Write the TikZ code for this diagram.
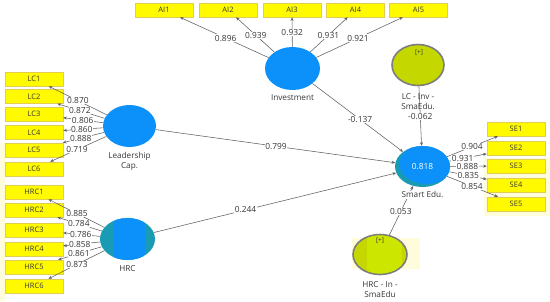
\documentclass[tikz,border=0pt]{standalone}
\usepackage{fontspec}
\setmainfont{Open Sans}
\usetikzlibrary{arrows.meta,calc,shapes.geometric}
\definecolor{lvblue}{RGB}{12,145,250}
\definecolor{lvteal}{RGB}{25,155,180}
\definecolor{mgreen}{RGB}{196,216,0}
\definecolor{mgreenb}{RGB}{205,230,0}
\definecolor{mborder}{RGB}{125,125,125}
\definecolor{indfill}{RGB}{255,250,0}
\definecolor{indborder}{RGB}{225,205,80}
\definecolor{pale}{RGB}{255,252,220}
\definecolor{lnc}{RGB}{95,95,95}
\definecolor{txt}{RGB}{55,55,55}
\begin{document}
\begin{tikzpicture}[x=1pt,y=-1pt,
  indbox/.style={draw=indborder, line width=0.5pt, fill=indfill, minimum width=58pt, minimum height=14pt, inner sep=0pt, font=\fontsize{7.5}{8}\selectfont, text=txt},
  lvnode/.style={ellipse, inner sep=0pt, minimum width=55pt, minimum height=42pt},
  mvnode/.style={ellipse, inner sep=0pt, draw=mborder, line width=1.6pt, fill=mgreen, minimum width=52pt, minimum height=41pt},
  ld/.style={draw=lnc, line width=0.55pt, -{Stealth[length=3.6pt,width=3pt]}},
  lbl/.style={fill=white, inner sep=0.5pt, font=\fontsize{8.4}{9}\selectfont, text=txt},
  nm/.style={font=\fontsize{8.2}{10}\selectfont, text=txt, align=center, inner sep=1pt},
  plus/.style={font=\fontsize{6.5}{7}\selectfont, text=txt, inner sep=0pt}]
\useasboundingbox (0,0) rectangle (550,301);
% pale backgrounds
\fill[pale] (0,143) rectangle (5,301);
\fill[pale] (484,158) rectangle (550,216);
\fill[pale] (352,238) rectangle (420,269);
% indicators
\node[indbox] (AI1) at (164,10) {AI1};
\node[indbox] (AI2) at (228,10) {AI2};
\node[indbox] (AI3) at (292,10) {AI3};
\node[indbox] (AI4) at (355.5,10) {AI4};
\node[indbox] (AI5) at (418.5,10) {AI5};
\node[indbox] (LC1) at (34,79) {LC1};
\node[indbox] (LC2) at (34,96.5) {LC2};
\node[indbox] (LC3) at (34,114) {LC3};
\node[indbox] (LC4) at (34,132.5) {LC4};
\node[indbox] (LC5) at (34,150) {LC5};
\node[indbox] (LC6) at (34,169) {LC6};
\node[indbox] (HRC1) at (34,192) {HRC1};
\node[indbox] (HRC2) at (34,210) {HRC2};
\node[indbox] (HRC3) at (34,230) {HRC3};
\node[indbox] (HRC4) at (34,249) {HRC4};
\node[indbox] (HRC5) at (34,267) {HRC5};
\node[indbox] (HRC6) at (34,286) {HRC6};
\node[indbox] (SE1) at (516,129) {SE1};
\node[indbox] (SE2) at (516,148) {SE2};
\node[indbox] (SE3) at (516,166) {SE3};
\node[indbox] (SE4) at (516,185) {SE4};
\node[indbox] (SE5) at (516,204) {SE5};
% latent variables
\node[lvnode, fill=lvblue, minimum width=55pt, minimum height=43pt] (INV) at (292.5,68.5) {};
\node[lvnode, fill=lvblue, minimum width=53pt, minimum height=42pt] (LC) at (129.5,126) {};
\node[lvnode, fill=lvteal] (HRC) at (127.5,239) {};
\begin{scope}
  \clip (127.5,239) ellipse (27.5pt and 21pt);
  \fill[lvblue] (113,215) rectangle (145,263);
\end{scope}
\node[lvnode, fill=lvteal, minimum height=41pt] (SE) at (422.5,166.5) {};
\begin{scope}
  \clip (422.5,166.5) ellipse (27.5pt and 20.5pt);
  \fill[lvblue] (426.5,164) ellipse (27pt and 20pt);
\end{scope}
\node[font=\fontsize{8.4}{9}\selectfont, text=white] at (SE) {0.818};
\node[mvnode] (LCI) at (418,65) {};
\node[mvnode, minimum width=54pt, minimum height=40pt] (HRCI) at (380,254.5) {};
\begin{scope}
  \clip (380,254.5) ellipse (26pt and 19pt);
  \fill[mgreenb] (367,230) rectangle (402,280);
\end{scope}
\node[plus] (p1) at (419,53) {[+]};
\node[plus] (p2) at (380,241) {[+]};
% names
\node[nm, anchor=north] (nINV) at (292.5,93) {Investment};
\node[nm, anchor=north] (nLC) at (129.5,151) {Leadership\\Cap.};
\node[nm, anchor=north] (nHRC) at (127.5,264) {HRC};
\node[nm, anchor=north] (nHRCI) at (380,280) {HRC - In -\\SmaEdu};
% outer loadings
\foreach \b in {LC1,LC2,LC3,LC4,LC5,LC6}{\draw[ld] (LC) -- (\b);}
\foreach \b in {HRC1,HRC2,HRC3,HRC4,HRC5,HRC6}{\draw[ld] (HRC) -- (\b);}
\foreach \b in {AI1,AI2,AI3,AI4,AI5}{\draw[ld] (INV) -- (\b);}
\foreach \b in {SE1,SE2,SE3,SE4,SE5}{\draw[ld] (SE) -- (\b);}
% structural paths
\draw[ld] (LC) -- (SE);
\draw[ld] (HRC) -- (SE);
\draw[ld] (INV) -- (SE);
\draw[ld] (LCI) -- (SE);
\draw[ld] (HRCI) -- (SE);
\node[nm, anchor=north] (nLCI) at (418,92) {LC - Inv -\\SmaEdu.};
\node[nm, anchor=north, fill=white, inner sep=0.5pt] (nSE) at (422.5,191) {Smart Edu.};
% loading labels
\foreach \b/\t/\v in {LC1/0.54/0.870, LC2/0.52/0.872, LC3/0.49/0.806, LC4/0.50/0.860, LC5/0.51/0.888, LC6/0.55/0.719}{
  \node[lbl] (l\b) at ($(LC.center)!\t!(\b.center)$) {\v};
}
\foreach \b/\t/\v in {HRC1/0.54/0.885, HRC2/0.52/0.784, HRC3/0.50/0.786, HRC4/0.51/0.858, HRC5/0.52/0.861, HRC6/0.54/0.873}{
  \node[lbl] (l\b) at ($(HRC.center)!\t!(\b.center)$) {\v};
}
\foreach \b/\t/\v in {AI1/0.52/0.896, AI2/0.57/0.939, AI3/0.61/0.932, AI4/0.57/0.931, AI5/0.52/0.921}{
  \node[lbl] (l\b) at ($(INV.center)!\t!(\b.center)$) {\v};
}
\foreach \b/\t/\v in {SE1/0.53/0.904, SE2/0.43/0.931, SE3/0.48/0.888, SE4/0.49/0.835, SE5/0.53/0.854}{
  \node[lbl] (l\b) at ($(SE.center)!\t!(\b.center)$) {\v};
}
\node[lbl] (pLC) at ($(LC.center)!0.50!(SE.center)$) {0.799};
\node[lbl] (pHRC) at ($(HRC.center)!0.40!(SE.center)$) {0.244};
\node[lbl] (pINV) at ($(INV.center)!0.52!(SE.center)$) {-0.137};
\node[lbl] (pLCI) at ($(LCI.center)!0.51!(SE.center)$) {-0.062};
\node[lbl] (pHRCI) at ($(HRCI.center)!0.49!(SE.center)$) {0.053};
\end{tikzpicture}
\end{document}
